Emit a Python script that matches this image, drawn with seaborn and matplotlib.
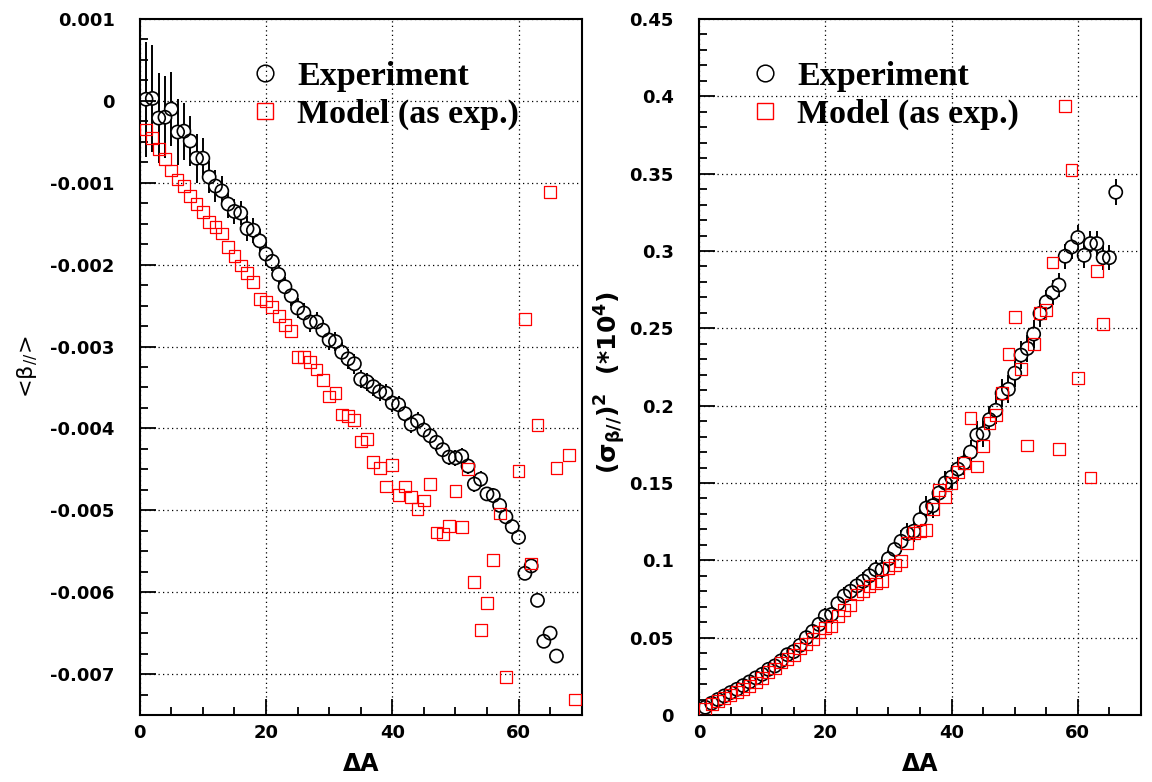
import numpy as np
import pandas as pd
import matplotlib
matplotlib.use("Agg")
import matplotlib.pyplot as plt
import seaborn as sns
from matplotlib.lines import Line2D
from matplotlib.ticker import MultipleLocator, FuncFormatter
from matplotlib.font_manager import FontProperties

# ---------------- data ----------------
left_exp_x = list(range(1, 67))
left_exp_y = [0.00002, 0.00003, -0.00021, -0.00020, -0.00010, -0.00038, -0.00037, -0.00049,
              -0.00070, -0.00070, -0.00093, -0.00104, -0.00110, -0.00126, -0.00135, -0.00137,
              -0.00156, -0.00158, -0.00171, -0.00187, -0.00196, -0.00212, -0.00227, -0.00238,
              -0.00253, -0.00259, -0.00270, -0.00270, -0.00280, -0.00292, -0.00294, -0.00307,
              -0.00315, -0.00321, -0.00340, -0.00343, -0.00349, -0.00355, -0.00357, -0.00369,
              -0.00371, -0.00382, -0.00395, -0.00391, -0.00402, -0.00409, -0.00417, -0.00426,
              -0.00435, -0.00436, -0.00434, -0.00446, -0.00468, -0.00462, -0.00480, -0.00482,
              -0.00494, -0.00508, -0.00520, -0.00533, -0.00577, -0.00568, -0.00610, -0.00660,
              -0.00650, -0.00678]
left_exp_err = [0.00070, 0.00065, 0.00055, 0.00050, 0.00045, 0.00040, 0.00035, 0.00030,
                0.00030, 0.00025, 0.00020, 0.00020, 0.00018, 0.00017, 0.00015, 0.00015,
                0.00015, 0.00015, 0.00015, 0.00015, 0.00012, 0.00012, 0.00012, 0.00012,
                0.00012, 0.00012, 0.00012, 0.00012, 0.00012, 0.00012, 0.00012, 0.00012,
                0.00012, 0.00012, 0.00011, 0.00011, 0.00011, 0.00011, 0.00011, 0.00011,
                0.00011, 0.00011, 0.00011, 0.00011, 0.00010, 0.00010, 0.00010, 0.00010,
                0.00010, 0.00010, 0.00010, 0.00010, 0.00010, 0.00010, 0.00009, 0.00009,
                0.00008, 0.00007, 0.00006, 0.00006, 0.00006, 0.00006, 0.00006, 0.00006,
                0.00006, 0.00006]

left_mod_x = list(range(1, 59)) + [60, 61, 62, 63, 65, 66, 68, 69]
left_mod_y = [-0.00035, -0.00045, -0.00059, -0.00071, -0.00085, -0.00096, -0.00104, -0.00116,
              -0.00126, -0.00136, -0.00148, -0.00154, -0.00162, -0.00178, -0.00189, -0.00201,
              -0.00210, -0.00221, -0.00242, -0.00245, -0.00252, -0.00263, -0.00274, -0.00281,
              -0.00313, -0.00313, -0.00319, -0.00328, -0.00341, -0.00361, -0.00357, -0.00383,
              -0.00385, -0.00390, -0.00416, -0.00413, -0.00441, -0.00448, -0.00471, -0.00445,
              -0.00481, -0.00471, -0.00484, -0.00498, -0.00488, -0.00468, -0.00527, -0.00529,
              -0.00519, -0.00476, -0.00520, -0.00450, -0.00588, -0.00646, -0.00613, -0.00561,
              -0.00504, -0.00704,
              -0.00452, -0.00266, -0.00565, -0.00396, -0.00111, -0.00448, -0.00432, -0.00731]

right_exp_x = list(range(1, 67))
right_exp_y = [0.0050, 0.0076, 0.0100, 0.0123, 0.0145, 0.0166, 0.0190, 0.0214, 0.0240, 0.0263,
               0.0295, 0.0317, 0.0350, 0.0390, 0.0410, 0.0450, 0.0500, 0.0540, 0.0586, 0.0640,
               0.0650, 0.0720, 0.0770, 0.0800, 0.0835, 0.0865, 0.0900, 0.0940, 0.0940, 0.1010,
               0.1070, 0.1123, 0.1173, 0.1188, 0.1263, 0.1338, 0.1353, 0.1435, 0.1500, 0.1538,
               0.1590, 0.1630, 0.1700, 0.1810, 0.1820, 0.1910, 0.1970, 0.2080, 0.2106, 0.2210,
               0.2327, 0.2370, 0.2463, 0.2596, 0.2670, 0.2730, 0.2780, 0.2966, 0.3026, 0.3087,
               0.2972, 0.3048, 0.3048, 0.2957, 0.2957, 0.3380]
right_exp_err = [0.002, 0.002, 0.002, 0.002, 0.002, 0.003, 0.003, 0.003, 0.003, 0.003,
                 0.004, 0.004, 0.004, 0.004, 0.004, 0.005, 0.005, 0.005, 0.005, 0.005,
                 0.006, 0.006, 0.006, 0.006, 0.006, 0.006, 0.006, 0.006, 0.006, 0.006,
                 0.007, 0.007, 0.007, 0.007, 0.007, 0.008, 0.008, 0.008, 0.008, 0.008,
                 0.008, 0.008, 0.008, 0.009, 0.009, 0.009, 0.009, 0.009, 0.009, 0.009,
                 0.009, 0.009, 0.009, 0.009, 0.008, 0.008, 0.008, 0.008, 0.008, 0.008,
                 0.008, 0.008, 0.008, 0.008, 0.008, 0.0085]

right_mod_x = list(range(1, 61)) + [62, 63, 64]
right_mod_y = [0.0040, 0.0070, 0.0090, 0.0110, 0.0130, 0.0150, 0.0170, 0.0190, 0.0210, 0.0240,
               0.0280, 0.0300, 0.0340, 0.0360, 0.0390, 0.0430, 0.0460, 0.0490, 0.0536, 0.0564,
               0.0575, 0.0640, 0.0680, 0.0710, 0.0779, 0.0800, 0.0833, 0.0850, 0.0865, 0.0950,
               0.0970, 0.0994, 0.1110, 0.1177, 0.1190, 0.1198, 0.1330, 0.1456, 0.1410, 0.1500,
               0.1570, 0.1630, 0.1920, 0.1607, 0.1740, 0.1890, 0.1940, 0.2084, 0.2334, 0.2575,
               0.2237, 0.1742, 0.2400, 0.2600, 0.2620, 0.2926, 0.1720, 0.3940, 0.3526, 0.2180,
               0.1536, 0.2870, 0.2527]

x_ticks = [0, 20, 40, 60]
label_exp = "Experiment"
label_mod = "Model (as exp.)"

# ---------------- style ----------------
sns.set_style("ticks")
plt.rcParams["font.family"] = ["DejaVu Sans"]
plt.rcParams["axes.unicode_minus"] = False
plt.rcParams["mathtext.default"] = "regular"
plt.rcParams["text.color"] = "black"
plt.rcParams["axes.labelcolor"] = "black"
plt.rcParams["xtick.color"] = "black"
plt.rcParams["ytick.color"] = "black"

W, H = 1152, 782
fig = plt.figure(figsize=(W / 100, H / 100), dpi=100)
ax_b = 1 - 715 / H
ax_h = 696 / H
ax1 = fig.add_axes([139.7 / W, ax_b, 442 / W, ax_h])
ax2 = fig.add_axes([699 / W, ax_b, 442 / W, ax_h])

leg_font = FontProperties(family="Liberation Serif", weight="bold", size=24.5)


def draw_panel(ax, ex, ey, eerr, mx, my):
    dfe = pd.DataFrame({"x": ex, "y": ey})
    dfm = pd.DataFrame({"x": mx, "y": my})
    ax.errorbar(ex, ey, yerr=eerr, fmt="none", ecolor="black", elinewidth=1.4,
                capsize=0, zorder=1.5)
    # white interior to hide error bars inside markers
    sns.scatterplot(data=dfe, x="x", y="y", ax=ax, marker="o", s=90,
                    facecolor="white", edgecolor="none", zorder=2, legend=False)
    sns.scatterplot(data=dfe, x="x", y="y", ax=ax, marker="o", s=90,
                    facecolor="none", edgecolor="black", linewidth=1.2, zorder=3,
                    legend=False)
    sns.scatterplot(data=dfm, x="x", y="y", ax=ax, marker="s", s=72,
                    facecolor="none", edgecolor="#ff0000", linewidth=0.9, zorder=3.5,
                    legend=False)
    ax.set_axisbelow(False)
    ax.grid(True, which="major", color="black", linestyle=(0, (1, 2.6)), linewidth=0.9)
    for gl in ax.get_xgridlines() + ax.get_ygridlines():
        gl.set_zorder(2.5)
    ax.set_xlim(0, 70)
    ax.set_xticks(x_ticks)
    ax.xaxis.set_minor_locator(MultipleLocator(5))
    ax.tick_params(which="both", direction="in", top=False, right=False, width=1.3,
                   colors="black", labelsize=13)
    ax.tick_params(which="major", length=11.5)
    ax.tick_params(which="minor", length=5.8)
    ax.tick_params(axis="y", pad=18)
    ax.tick_params(axis="x", pad=6.5)
    for sp in ax.spines.values():
        sp.set_linewidth(1.5)
        sp.set_color("black")
    ax.set_xlabel("ΔA", fontsize=17, fontweight="bold", color="black")
    ax.xaxis.set_label_coords(0.5, -0.053)
    ax.set_ylabel("")


draw_panel(ax1, left_exp_x, left_exp_y, left_exp_err, left_mod_x, left_mod_y)
draw_panel(ax2, right_exp_x, right_exp_y, right_exp_err, right_mod_x, right_mod_y)

fmt = FuncFormatter(lambda v, p: "%g" % round(v, 6))
ax1.set_ylim(-0.0075, 0.001)
ax1.yaxis.set_major_locator(MultipleLocator(0.001))
ax1.yaxis.set_minor_locator(MultipleLocator(0.00025))
ax1.yaxis.set_major_formatter(fmt)
ax2.set_ylim(0, 0.45)
ax2.yaxis.set_major_locator(MultipleLocator(0.05))
ax2.yaxis.set_minor_locator(MultipleLocator(0.01))
ax2.yaxis.set_major_formatter(fmt)
for ax in (ax1, ax2):
    for lab in ax.get_xticklabels() + ax.get_yticklabels():
        lab.set_fontweight("bold")

ax1.set_ylabel("<β$_{//}$>", fontsize=16, color="black")
ax1.yaxis.set_label_coords(-0.226, 0.5)
ax2.set_ylabel("(σ$_{β//}$)$^{2}$  (*10$^{4}$)", fontsize=18, fontweight="bold",
               color="black")
ax2.yaxis.set_label_coords(-0.16, 0.478)

handles = [Line2D([], [], marker="o", ls="none", mfc="none", mec="black", ms=12, mew=1.1),
           Line2D([], [], marker="s", ls="none", mfc="none", mec="#ff0000", ms=12, mew=1.0)]
labels = [label_exp, label_mod]
for ax, bx in ((ax1, 0.245), (ax2, 0.11)):
    ax.legend(handles, labels, loc="upper left", bbox_to_anchor=(bx, 0.94),
              frameon=False, prop=leg_font, handlelength=1.0, handletextpad=0.45,
              labelspacing=0.22, borderaxespad=0, borderpad=0, labelcolor="black")

fig.savefig("out.png", dpi=100)
